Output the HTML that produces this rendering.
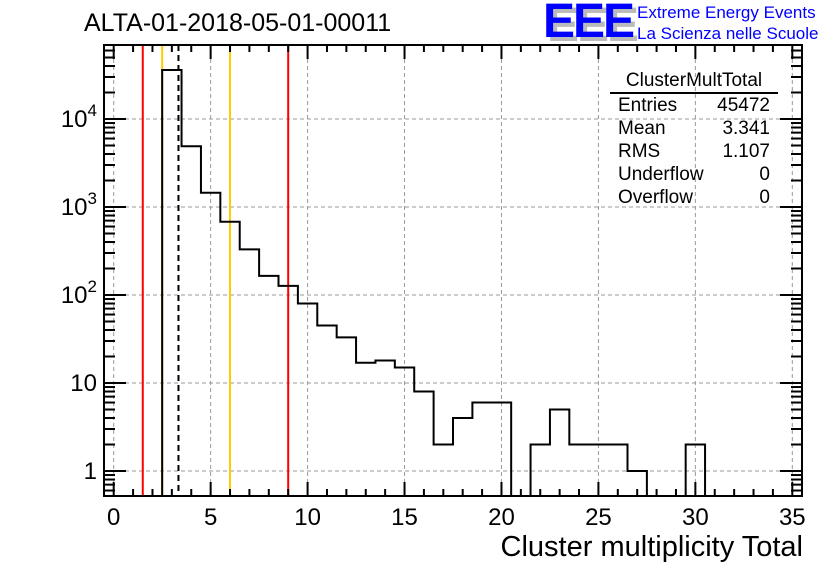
<!DOCTYPE html>
<html><head><meta charset="utf-8"><style>body{margin:0;background:#fff}svg{display:block;font-family:"Liberation Sans",sans-serif}</style></head>
<body>
<svg id="c" width="836" height="572" viewBox="0 0 836 572"></svg>
<script>
const binCenters=[0,1,2,3,4,5,6,7,8,9,10,11,12,13,14,15,16,17,18,19,20,21,22,23,24,25,26,27,28,29,30,31,32,33,34,35];
const counts=[0,0,0,36000,4900,1450,680,330,165,127,80,45,33,17,18,15,8,2,4,6,6,0,2,5,2,2,2,1,0,0,2,0,0,0,0,0];
const xTicks=[0,5,10,15,20,25,30,35];
const yTicks=[1,10,100,1000,10000];
const yTickBase=["1","10","10","10","10"];
const yTickExp=["","","2","3","4"];
const vLinesRed=[1.5,9.0];
const vLinesOrange=[2.5,6.0];
const meanVal=3.341;
const NS="http://www.w3.org/2000/svg";
const svg=document.getElementById('c');
const L=104,R=802,T=45,B=496,xmin=-0.5,xmax=35.5;
const y1=471,dec=88;
const X=v=>L+(v-xmin)/(xmax-xmin)*(R-L);
const Y=v=>v<=0?B:Math.max(T,Math.min(B,y1-Math.log10(v)*dec));
function el(t,a,p){const e=document.createElementNS(NS,t);for(const k in a)e.setAttribute(k,a[k]);(p||svg).appendChild(e);return e;}
const g=el('g',{});


xTicks.forEach(v=>el('line',{x1:X(v),x2:X(v),y1:T,y2:B,stroke:'#999','stroke-dasharray':'4,3'},g));
yTicks.forEach(v=>el('line',{x1:L,x2:R,y1:Y(v),y2:Y(v),stroke:'#999','stroke-dasharray':'4,3'},g));
let d='M'+X(xmin)+','+B;
binCenters.forEach((c,i)=>{const y=Y(counts[i]);d+=' L'+X(c-0.5)+','+y+' L'+X(c+0.5)+','+y;});
d+=' L'+X(xmax)+','+B;
const h=el('path',{d:d,fill:'none',stroke:'#000','stroke-width':2});


vLinesRed.forEach(v=>{const l=el('line',{x1:X(v),x2:X(v),y1:T,y2:B,stroke:'#f00','stroke-width':2});

});
vLinesOrange.forEach(v=>{const l=el('line',{x1:X(v),x2:X(v),y1:T,y2:B,stroke:'#fc0','stroke-width':2});

});
const m=el('line',{x1:X(meanVal),x2:X(meanVal),y1:T,y2:B,stroke:'#000','stroke-width':2,'stroke-dasharray':'6,4'});


svg.appendChild(h);
const f=el('rect',{x:L,y:T,width:R-L,height:B-T,fill:'none',stroke:'#000','stroke-width':2});


for(let v=0;v<=35;v++){const big=v%5==0,len=big?14:7;
el('line',{x1:X(v),x2:X(v),y1:B,y2:B-len,stroke:'#000','stroke-width':2});
el('line',{x1:X(v),x2:X(v),y1:T,y2:T+len,stroke:'#000','stroke-width':2});}
xTicks.forEach(v=>{const t=el('text',{x:X(v),y:525,'font-size':24,'text-anchor':'middle'});t.textContent=v;

});
for(let e=-1;e<=4;e++)for(let k=1;k<=9;k++){const v=k*Math.pow(10,e);const y=Y(v);if(y<=T||y>=B)continue;const len=k==1?22:11;
el('line',{x1:L,x2:L+len,y1:y,y2:y,stroke:'#000','stroke-width':2});
el('line',{x1:R,x2:R-len,y1:y,y2:y,stroke:'#000','stroke-width':2});}
yTicks.forEach((v,i)=>{const t=el('text',{x:97,y:Y(v)+8,'font-size':24,'text-anchor':'end'});
const b=el('tspan',{},t);b.textContent=yTickBase[i];
if(yTickExp[i]){const s=el('tspan',{'font-size':17,dy:-11},t);s.textContent=yTickExp[i];}

});
</script>
<div style="position:absolute;left:0;top:0;width:836px;height:572px;font-family:'Liberation Sans',sans-serif;pointer-events:none">
<div style="position:absolute;left:84px;top:9px;font-size:25px">ALTA-01-2018-05-01-00011</div>
<div style="position:absolute;right:33px;top:531px;font-size:29px">Cluster multiplicity Total</div>
<div style="position:absolute;left:543px;top:-6px;font-size:48px;font-weight:bold;color:#00f;letter-spacing:-2px;text-shadow:4px 4px 0 #bbb">EEE</div>
<div style="position:absolute;left:637px;top:2px;font-size:17px;color:#00f;line-height:21px">Extreme Energy Events<br>La Scienza nelle Scuole</div>
<div style="position:absolute;left:610px;top:70px;width:168px;font-size:19px;line-height:23px">
<div style="text-align:center;border-bottom:2px solid #000;line-height:22px">ClusterMultTotal</div>
<div style="padding:0 8px;display:flex;justify-content:space-between"><span>Entries</span><span>45472</span></div>
<div style="padding:0 8px;display:flex;justify-content:space-between"><span>Mean</span><span>3.341</span></div>
<div style="padding:0 8px;display:flex;justify-content:space-between"><span>RMS</span><span>1.107</span></div>
<div style="padding:0 8px;display:flex;justify-content:space-between"><span>Underflow</span><span>0</span></div>
<div style="padding:0 8px;display:flex;justify-content:space-between"><span>Overflow</span><span>0</span></div>
</div></div>
</body></html>
